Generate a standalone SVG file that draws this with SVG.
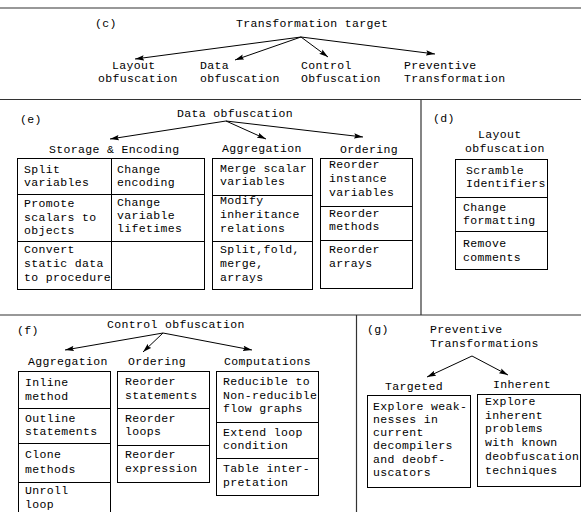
<svg xmlns="http://www.w3.org/2000/svg" width="581" height="512" viewBox="0 0 581 512">
<style>
text{font-family:"Liberation Mono","DejaVu Sans Mono",monospace;font-size:11.5px;letter-spacing:0.35px;fill:#000}
.sep{stroke:#333;stroke-width:1.2;fill:none}
.tb{stroke:#000;stroke-width:1;fill:none}
.ar{stroke:#000;stroke-width:1;fill:none;marker-end:url(#ah)}
</style>
<defs>
<marker id="ah" markerUnits="userSpaceOnUse" markerWidth="10" markerHeight="6" refX="9" refY="3" orient="auto"><path d="M0,0.3 L9,3 L0,5.7 L1.5,3 Z" fill="#000"/></marker>
</defs>
<rect width="581" height="512" fill="#fff"/>
<g id="separators">
<line class="sep" x1="0" y1="8" x2="581" y2="8"/>
<line class="sep" x1="0" y1="99.5" x2="581" y2="99.5"/>
<line class="sep" x1="421" y1="99.5" x2="421" y2="315"/>
<line class="sep" x1="0" y1="315" x2="581" y2="315"/>
<line class="sep" x1="356.5" y1="315" x2="356.5" y2="512"/>
</g>
<g id="connectors">
<line class="ar" x1="301" y1="37" x2="135" y2="59"/>
<line class="ar" x1="301" y1="37" x2="235" y2="60"/>
<line class="ar" x1="301" y1="37" x2="328" y2="57"/>
<line class="ar" x1="301" y1="37" x2="435" y2="54"/>
<line class="ar" x1="226" y1="121" x2="110" y2="139"/>
<line class="ar" x1="226" y1="121" x2="266" y2="139"/>
<line class="ar" x1="226" y1="121" x2="363" y2="137"/>
<line class="ar" x1="163" y1="333" x2="65" y2="350"/>
<line class="ar" x1="163" y1="333" x2="143" y2="352"/>
<line class="ar" x1="163" y1="333" x2="252" y2="350"/>
<line class="ar" x1="472" y1="356" x2="427" y2="377"/>
<line class="ar" x1="472" y1="356" x2="508" y2="375"/>
</g>
<g id="c-section">
<text x="95" y="27">(c)</text>
<text x="236" y="27">Transformation target</text>
<g id="c-layout"><text x="112" y="69">Layout</text><text x="98" y="82">obfuscation</text></g>
<g id="c-data"><text x="200" y="69">Data</text><text x="200" y="82">obfuscation</text></g>
<g id="c-control"><text x="301" y="69">Control</text><text x="301" y="82">Obfuscation</text></g>
<g id="c-preventive"><text x="404" y="69">Preventive</text><text x="404" y="82">Transformation</text></g>
</g>
<g id="e-section">
<text x="20" y="123">(e)</text>
<text x="177" y="117">Data obfuscation</text>
<text x="49" y="153">Storage &amp; Encoding</text>
<text x="222" y="152">Aggregation</text>
<text x="340" y="153">Ordering</text>
<g id="e-storage">
<rect class="tb" x="17.5" y="158.5" width="187" height="131"/>
<line class="tb" x1="111.5" y1="158.5" x2="111.5" y2="289.5"/>
<line class="tb" x1="17.5" y1="194.5" x2="204.5" y2="194.5"/>
<line class="tb" x1="17.5" y1="241.5" x2="204.5" y2="241.5"/>
<text x="24" y="173">Split</text><text x="24" y="186">variables</text>
<text x="24" y="207">Promote</text><text x="24" y="220.5">scalars to</text><text x="24" y="234">objects</text>
<text x="24" y="253">Convert</text><text x="24" y="267">static data</text><text x="24" y="280.5">to procedure</text>
<text x="117" y="173">Change</text><text x="117" y="186">encoding</text>
<text x="117" y="205.5">Change</text><text x="117" y="218.5">variable</text><text x="117" y="231.5">lifetimes</text>
</g>
<g id="e-aggregation">
<rect class="tb" x="212.5" y="158.5" width="100" height="131"/>
<line class="tb" x1="212.5" y1="195.5" x2="312.5" y2="195.5"/>
<line class="tb" x1="212.5" y1="241.5" x2="312.5" y2="241.5"/>
<text x="220" y="172">Merge scalar</text><text x="220" y="185">variables</text>
<text x="220" y="204">Modify</text><text x="220" y="218">inheritance</text><text x="220" y="232">relations</text>
<text x="220" y="253">Split,fold,</text><text x="220" y="267">merge,</text><text x="220" y="281">arrays</text>
</g>
<g id="e-ordering">
<rect class="tb" x="320.5" y="158.5" width="92" height="130"/>
<line class="tb" x1="320.5" y1="206.5" x2="412.5" y2="206.5"/>
<line class="tb" x1="320.5" y1="240.5" x2="412.5" y2="240.5"/>
<text x="329" y="168">Reorder</text><text x="329" y="182">instance</text><text x="329" y="196">variables</text>
<text x="329" y="217">Reorder</text><text x="329" y="230">methods</text>
<text x="329" y="253">Reorder</text><text x="329" y="267">arrays</text>
</g>
</g>
<g id="d-section">
<text x="433" y="122">(d)</text>
<text x="478" y="138">Layout</text>
<text x="465" y="152">obfuscation</text>
<g id="d-box">
<rect class="tb" x="455.5" y="159.5" width="92" height="110"/>
<line class="tb" x1="455.5" y1="197.5" x2="547.5" y2="197.5"/>
<line class="tb" x1="455.5" y1="231.5" x2="547.5" y2="231.5"/>
<text x="466" y="174">Scramble</text><text x="466" y="187">Identifiers</text>
<text x="463" y="211">Change</text><text x="463" y="224">formatting</text>
<text x="463" y="247">Remove</text><text x="463" y="261">comments</text>
</g>
</g>
<g id="f-section">
<text x="17" y="334">(f)</text>
<text x="107" y="328">Control obfuscation</text>
<text x="28" y="365">Aggregation</text>
<text x="128" y="365">Ordering</text>
<text x="224" y="365">Computations</text>
<g id="f-aggregation">
<rect class="tb" x="18.5" y="371.5" width="92" height="160"/>
<line class="tb" x1="18.5" y1="408.5" x2="110.5" y2="408.5"/>
<line class="tb" x1="18.5" y1="443.5" x2="110.5" y2="443.5"/>
<line class="tb" x1="18.5" y1="482.5" x2="110.5" y2="482.5"/>
<text x="25" y="386">Inline</text><text x="25" y="400">method</text>
<text x="25" y="422">Outline</text><text x="25" y="435">statements</text>
<text x="25" y="458">Clone</text><text x="25" y="473">methods</text>
<text x="25" y="494">Unroll</text><text x="25" y="508">loop</text>
</g>
<g id="f-ordering">
<rect class="tb" x="117.5" y="371.5" width="92" height="111"/>
<line class="tb" x1="117.5" y1="408.5" x2="209.5" y2="408.5"/>
<line class="tb" x1="117.5" y1="445.5" x2="209.5" y2="445.5"/>
<text x="125" y="385">Reorder</text><text x="125" y="399">statements</text>
<text x="125" y="422">Reorder</text><text x="125" y="435">loops</text>
<text x="125" y="458">Reorder</text><text x="125" y="472">expression</text>
</g>
<g id="f-computations">
<rect class="tb" x="216.5" y="371.5" width="102" height="124"/>
<line class="tb" x1="216.5" y1="422.5" x2="318.5" y2="422.5"/>
<line class="tb" x1="216.5" y1="458.5" x2="318.5" y2="458.5"/>
<text x="223" y="385">Reducible to</text><text x="223" y="399">Non-reducible</text><text x="223" y="412">flow graphs</text>
<text x="223" y="436">Extend loop</text><text x="223" y="449">condition</text>
<text x="223" y="472">Table inter-</text><text x="223" y="486">pretation</text>
</g>
</g>
<g id="g-section">
<text x="367" y="333">(g)</text>
<text x="430" y="333">Preventive</text>
<text x="430" y="347">Transformations</text>
<text x="385" y="390">Targeted</text>
<text x="493" y="388">Inherent</text>
<g id="g-targeted">
<rect class="tb" x="367.5" y="395.5" width="103" height="92"/>
<text x="373" y="410">Explore weak-</text><text x="373" y="423">nesses in</text><text x="373" y="436">current</text>
<text x="373" y="449">decompilers</text><text x="373" y="463">and deobf-</text><text x="373" y="476">uscators</text>
</g>
<g id="g-inherent">
<rect class="tb" x="477.5" y="394.5" width="103" height="92"/>
<text x="485" y="405">Explore</text><text x="485" y="418.5">inherent</text><text x="485" y="432">problems</text>
<text x="485" y="446">with known</text><text x="485" y="460">deobfuscation</text><text x="485" y="474">techniques</text>
</g>
</g>
</svg>
